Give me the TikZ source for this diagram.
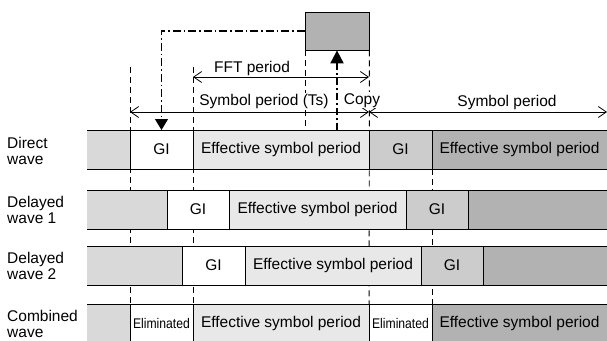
\documentclass[tikz,border=0pt]{standalone}
\usepackage{fontspec}
\setmainfont{Liberation Sans}
\newfontfamily\narrowsans{Liberation Sans}[FakeStretch=0.87]
\usetikzlibrary{arrows.meta}
\pgfdeclarelayer{bg}
\pgfsetlayers{bg,main}

\definecolor{cLead}{gray}{0.85}
\definecolor{cEff}{gray}{0.91}
\definecolor{cGI}{gray}{0.80}
\definecolor{cDark}{gray}{0.70}

\tikzset{
  seg/.style={inner sep=0pt, outer sep=0pt, minimum height=39pt, anchor=west},
  rowline/.style={line width=0.8pt},
  guide/.style={line width=0.9pt, dash pattern=on 6pt off 4pt},
  dimline/.style={line width=0.8pt, {Straight Barb[length=8pt,width=11pt]}-{Straight Barb[length=8pt,width=11pt]}},
  ddthin/.style={line width=1.1pt, dash pattern=on 8pt off 3pt on 1.5pt off 3pt, -{Triangle[length=11pt,width=13pt]}},
  ddthick/.style={line width=2pt, dash pattern=on 7pt off 3pt on 2pt off 3pt, -{Triangle[length=13pt,width=13pt]}},
  lbl/.style={anchor=west, align=left, inner sep=0pt, font=\fontsize{15.5}{16}\selectfont},
  dimtext/.style={anchor=base, inner sep=1pt},
  small/.style={font=\narrowsans\fontsize{14}{15}\selectfont},
}

\begin{document}
\begin{tikzpicture}[x=1pt, y=-1pt, font=\fontsize{15.5}{16}\selectfont]
\useasboundingbox (0,0) rectangle (607,340);

% ---- row labels
\node[lbl] (ldir) at (7,151) {Direct\\wave};
\node[lbl] (ld1)  at (7,210) {Delayed\\wave 1};
\node[lbl] (ld2)  at (7,266) {Delayed\\wave 2};
\node[lbl] (lcmb) at (7,324) {Combined\\wave};

% ---- direct wave
\node[seg, minimum width=43pt,  fill=cLead] (d0) at (87,149.5) {};
\node[seg, minimum width=63pt,  fill=white] (d1) at (130,149.5) {GI};
\node[seg, minimum width=176pt, fill=cEff]  (d2) at (193,149.5) {Effective symbol period};
\node[seg, minimum width=63pt,  fill=cGI]   (d3) at (369,149.5) {GI};
\node[seg, minimum width=175pt, fill=cDark] (d4) at (432,149.5) {Effective symbol period};

% ---- delayed wave 1
\node[seg, minimum width=80pt,  fill=cLead] (a0) at (87,209.5) {};
\node[seg, minimum width=62pt,  fill=white] (a1) at (167,209.5) {GI};
\node[seg, minimum width=177pt, fill=cEff]  (a2) at (229,209.5) {Effective symbol period};
\node[seg, minimum width=62pt,  fill=cGI]   (a3) at (406,209.5) {GI};
\node[seg, minimum width=139pt, fill=cDark] (a4) at (468,209.5) {};

% ---- delayed wave 2
\node[seg, minimum width=95pt,  fill=cLead] (b0) at (87,265.5) {};
\node[seg, minimum width=63pt,  fill=white] (b1) at (182,265.5) {GI};
\node[seg, minimum width=176pt, fill=cEff]  (b2) at (245,265.5) {Effective symbol period};
\node[seg, minimum width=62pt,  fill=cGI]   (b3) at (421,265.5) {GI};
\node[seg, minimum width=124pt, fill=cDark] (b4) at (483,265.5) {};

% ---- combined wave
\node[seg, minimum width=43pt,  fill=cLead] (c0) at (87,323.5) {};
\node[seg, minimum width=63pt,  fill=white, small] (c1) at (130,323.5) {Eliminated};
\node[seg, minimum width=176pt, fill=cEff]  (c2) at (193,323.5) {Effective symbol period};
\node[seg, minimum width=63pt,  fill=white, small] (c3) at (369,323.5) {Eliminated};
\node[seg, minimum width=175pt, fill=cDark] (c4) at (432,323.5) {Effective symbol period};

% ---- row outlines and separators
\foreach \r in {d,a,b,c} {
  \draw[rowline] (\r0.north west) -- (\r4.north east);
  \draw[rowline] (\r0.south west) -- (\r4.south east);
  \foreach \i in {0,1,2,3}
    \draw[rowline] (\r\i.north east) -- (\r\i.south east);
}

% ---- IFFT block
\node[draw, fill=cDark, line width=0.8pt, inner sep=0pt,
      minimum width=64pt, minimum height=38pt] (box) at (337,31) {};

% ---- guide lines behind the rows
\coordinate (g1) at (130,67);
\coordinate (g2) at (193,67);
\begin{pgfonlayer}{bg}
  \draw[guide] (g1) -- (c1.south west);
  \draw[guide] (g2) -- (c2.south west);
  \draw[guide] ([xshift=1pt]box.south west) -- ([xshift=1pt]box.south west |- d2.north);
  \draw[guide] (box.south east) -- (c3.south west);
  \draw[guide] (d4.south west) -- (c4.south west);
\end{pgfonlayer}

% ---- period dimension arrows
\coordinate (fL) at (193,77);
\coordinate (fR) at (369,77);
\draw[dimline] (fL) -- (fR);
\node[dimtext] (tfft) at (252,72.5) {FFT period};

\coordinate (sL) at (130,112);
\coordinate (sM) at (369,112);
\coordinate (sR) at (607,112);
\draw[dimline] (sL) -- (sM);
\draw[dimline] (sM) -- (sR);
\node[dimtext, fill=white] (tsym) at (264,105) {Symbol period (Ts)};
\node[dimtext, fill=white] (tcopy) at (362,104) {Copy};
\node[dimtext] (tsym2) at (507,106) {Symbol period};

% ---- copy paths
\coordinate (cpy) at (337,130);
\draw[ddthick] (cpy) -- (cpy |- box.south);
\draw[ddthin] (box.west) -| (d1.north);
\end{tikzpicture}
\end{document}
